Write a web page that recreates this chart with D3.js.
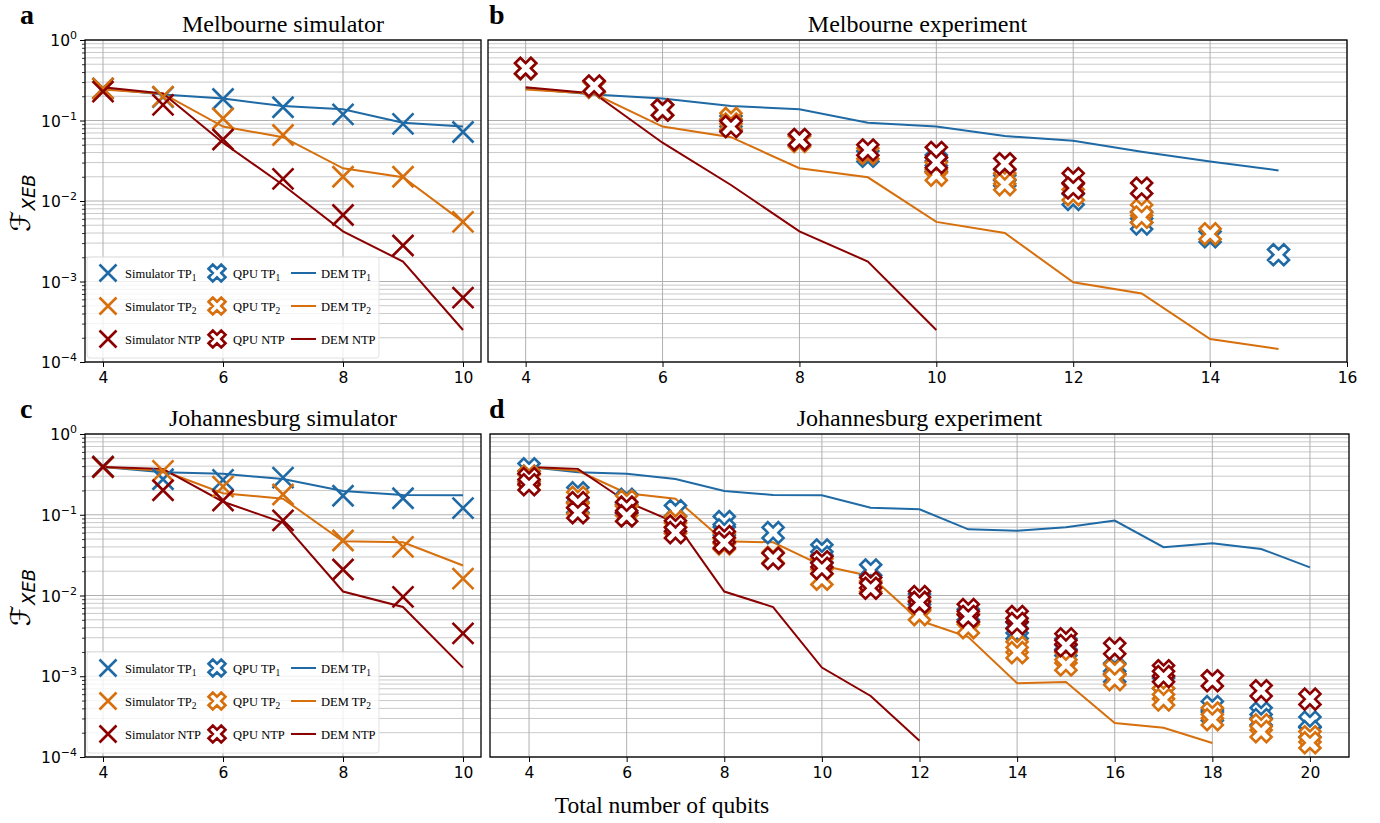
<!DOCTYPE html>
<html><head><meta charset="utf-8">
<script src="https://cdn.jsdelivr.net/npm/d3@7"></script>
<style>body{margin:0;background:#fff}</style>
</head><body>
<svg id="chart" width="1380" height="823"></svg>
<script>
// ---------------- DATA ----------------
const simQubits = [4,5,6,7,8,9,10];
const melSimTP1 = [0.25,0.195,0.185,0.146,0.119,0.091,0.072];
const melSimTP2 = [0.25,0.198,0.106,0.066,0.020,0.020,0.0055];
const melSimNTP = [0.228,0.156,0.058,0.0188,0.0067,0.0028,0.00063];

const melDemQubits = [4,5,6,7,8,9,10,11,12,13,14,15];
const melDemTP1 = [0.25,0.21,0.188,0.151,0.138,0.094,0.084,0.064,0.056,0.041,0.031,0.024];
const melDemTP2 = [0.243,0.215,0.084,0.062,0.0255,0.0197,0.0055,0.0040,0.00098,0.00071,0.000193,0.000145];
const melDemNTPQubits = [4,5,6,7,8,9,10];
const melDemNTP = [0.258,0.217,0.053,0.0158,0.0042,0.00177,0.00025];

const melQpuTP1x = [4,5,6,7,7,8,9,10,10,11,11,12,13,13,14,15];
const melQpuTP1 = [0.44,0.26,0.135,0.098,0.088,0.057,0.036,0.032,0.027,0.021,0.018,0.0105,0.0063,0.0052,0.0036,0.00215];
const melQpuTP2x = [4,5,6,7,7,8,9,10,10,11,11,12,13,13,14];
const melQpuTP2 = [0.44,0.26,0.135,0.106,0.09,0.055,0.039,0.026,0.021,0.019,0.016,0.012,0.0077,0.0063,0.0039];
const melQpuNTPx = [4,5,6,7,8,9,10,10,11,12,12,13];
const melQpuNTP = [0.445,0.268,0.135,0.084,0.058,0.043,0.040,0.030,0.029,0.019,0.0145,0.0144];

const jhbSimTP1 = [0.397,0.275,0.27,0.288,0.172,0.16,0.121];
const jhbSimTP2 = [0.39,0.35,0.223,0.178,0.048,0.040,0.0162];
const jhbSimNTP = [0.39,0.201,0.15,0.085,0.021,0.0096,0.0034];

const jhbDemTP1Qubits = [4,5,6,7,8,9,10,11,12,13,14,15,16,17,18,19,20];
const jhbDemTP1 = [0.39,0.335,0.322,0.277,0.197,0.176,0.174,0.122,0.117,0.066,0.0635,0.070,0.0846,0.0396,0.0444,0.0377,0.0223];
const jhbDemTP2Qubits = [4,5,6,7,8,9,10,11,12,13,14,15,16,17,18];
const jhbDemTP2 = [0.39,0.35,0.185,0.158,0.047,0.0455,0.0235,0.0173,0.0049,0.00305,0.00082,0.00085,0.000263,0.00023,0.000149];
const jhbDemNTPQubits = [4,5,6,7,8,9,10,11,12];
const jhbDemNTP = [0.39,0.37,0.145,0.08,0.0112,0.0072,0.00128,0.00057,0.000159];

const jhbQpuTP1x = [4,4,5,5,6,6,7,8,8,9,10,10,11,12,13,14,14,15,15,16,16,17,18,18,19,19,20,20];
const jhbQpuTP1 = [0.37,0.30,0.187,0.124,0.155,0.121,0.112,0.082,0.065,0.060,0.0366,0.030,0.0207,0.0090,0.0058,0.0040,0.0034,0.0025,0.0021,0.00125,0.00099,0.00082,0.00042,0.00033,0.00035,0.00029,0.00027,0.000206];
const jhbQpuTP2x = [4,4,5,5,6,6,7,7,8,8,9,10,10,11,12,12,13,13,14,14,15,15,16,16,17,17,18,18,19,19,20,20];
const jhbQpuTP2 = [0.30,0.27,0.164,0.119,0.148,0.114,0.082,0.068,0.051,0.0434,0.0296,0.0245,0.0159,0.013,0.0075,0.0058,0.0051,0.0040,0.0023,0.00196,0.0017,0.00138,0.0012,0.00091,0.00061,0.00051,0.00035,0.00029,0.00025,0.000206,0.000178,0.00015];
const jhbQpuNTPx = [4,4,5,5,6,6,7,7,8,8,9,10,10,11,11,12,12,13,13,14,14,15,15,16,17,17,18,19,20];
const jhbQpuNTP = [0.28,0.235,0.141,0.106,0.124,0.0966,0.0726,0.060,0.0535,0.045,0.0288,0.0262,0.0217,0.0144,0.0123,0.0097,0.0082,0.0067,0.0055,0.0055,0.0045,0.0029,0.0024,0.0022,0.00117,0.00099,0.00088,0.00066,0.00052];

const xTicksSim = [4,6,8,10];
const xTicksMel = [4,6,8,10,12,14,16];
const xTicksJhb = [4,6,8,10,12,14,16,18,20];
const yMajor = [1e-4,1e-3,1e-2,1e-1,1];
const yExponents = ["−4","−3","−2","−1","0"];

// ---------------- STYLE ----------------
const C = {tp1:"#1f6aa5", tp2:"#d66f0c", ntp:"#8b0000"};
const SERIF = "'Liberation Serif','Times New Roman',serif";
const SANS = "'DejaVu Sans',sans-serif";

const svg = d3.select("#chart");

const yMinor = [];
for (let k=-4;k<0;k++) for (let m=2;m<=9;m++) yMinor.push(m*Math.pow(10,k));

function simMarker(g, cx, cy, s, color){
  g.append("path").attr("d",`M${cx-s},${cy-s}L${cx+s},${cy+s}M${cx-s},${cy+s}L${cx+s},${cy-s}`)
   .attr("stroke",color).attr("stroke-width",2.6).attr("fill","none");
}
const xPts = [[-1,-2],[0,-1],[1,-2],[2,-1],[1,0],[2,1],[1,2],[0,1],[-1,2],[-2,1],[-1,0],[-2,-1]];
function qpuMarker(g, cx, cy, size, color){
  const k = size/4;
  const d = "M"+xPts.map(p=>`${cx+p[0]*k},${cy+p[1]*k}`).join("L")+"Z";
  g.append("path").attr("d",d).attr("fill","#fff").attr("stroke",color).attr("stroke-width",2.6).attr("stroke-linejoin","miter");
}

function panel(p){
  const g = svg.append("g");
  const x = d3.scaleLinear().domain(p.xdom).range([p.x0,p.x1]);
  const y = d3.scaleLog().domain([1e-4,1]).range([p.y1,p.y0]);
  // grid
  g.selectAll(null).data(yMinor).join("line")
    .attr("x1",p.x0).attr("x2",p.x1).attr("y1",d=>y(d)).attr("y2",d=>y(d))
    .attr("stroke","#c4c4c4").attr("stroke-width",0.9);
  g.selectAll(null).data(yMajor).join("line")
    .attr("x1",p.x0).attr("x2",p.x1).attr("y1",d=>y(d)).attr("y2",d=>y(d))
    .attr("stroke","#b0b0b0").attr("stroke-width",1);
  g.selectAll(null).data(p.xticks).join("line")
    .attr("x1",d=>x(d)).attr("x2",d=>x(d)).attr("y1",p.y0).attr("y2",p.y1)
    .attr("stroke","#b0b0b0").attr("stroke-width",1);

  // lines
  const line = d3.line().x(d=>x(d[0])).y(d=>y(d[1]));
  p.lines.forEach(L=>{
    g.append("path").datum(d3.zip(L.x,L.y)).attr("d",line)
      .attr("fill","none").attr("stroke",L.color).attr("stroke-width",2);
  });
  // markers
  p.marks.forEach(M=>{
    M.x.forEach((xv,i)=>{
      if (M.type==="sim") simMarker(g, x(xv), y(M.y[i]), 10.5, M.color);
      else qpuMarker(g, x(xv), y(M.y[i]), 21, M.color);
    });
  });

  // axes
  const xa = g.append("g").attr("transform",`translate(0,${p.y1})`)
    .call(d3.axisBottom(x).tickValues(p.xticks).tickSize(5).tickPadding(5).tickFormat(d3.format("d")));
  xa.select(".domain").remove();
  xa.selectAll("text").attr("font-family",SANS).attr("font-size",15.5).attr("fill","#000");
  xa.selectAll("line").attr("stroke","#000").attr("stroke-width",1);

  if (p.ylabels){
    const ya = g.append("g").attr("transform",`translate(${p.x0},0)`)
      .call(d3.axisLeft(y).tickValues(yMajor).tickSize(5).tickFormat(""));
    ya.select(".domain").remove();
    ya.selectAll("line").attr("stroke","#000").attr("stroke-width",1);
    const yam = g.append("g").attr("transform",`translate(${p.x0},0)`)
      .call(d3.axisLeft(y).tickValues(yMinor).tickSize(3).tickFormat(""));
    yam.select(".domain").remove();
    yam.selectAll("line").attr("stroke","#000").attr("stroke-width",0.8);

    yMajor.forEach((v,i)=>{
      const t = g.append("text").attr("x",p.x0-8).attr("y",y(v)+6)
        .attr("text-anchor","end").attr("font-family",SANS).attr("font-size",15.5).attr("fill","#000");
      t.append("tspan").text("10");
      t.append("tspan").attr("dy",-7).attr("font-size",11).text(yExponents[i]);
    });
    // y label
    const cy = (p.y0+p.y1)/2 + 2;
    const yl = g.append("text").attr("transform",`translate(30,${cy}) rotate(-90)`)
      .attr("text-anchor","middle").attr("font-family",SANS).attr("fill","#000");
    yl.append("tspan").attr("font-size",27).attr("font-style","italic").text("ℱ");
    yl.append("tspan").attr("font-size",18).attr("font-style","italic").attr("dy",5).text("XEB");
  }

  // frame
  g.append("rect").attr("x",p.x0).attr("y",p.y0).attr("width",p.x1-p.x0).attr("height",p.y1-p.y0)
    .attr("fill","none").attr("stroke","#000").attr("stroke-width",1.3);

  // title & letter
  g.append("text").attr("x",(p.x0+p.x1)/2).attr("y",p.y0-8).attr("text-anchor","middle")
    .attr("font-family",SERIF).attr("font-size",24).attr("fill","#000").text(p.title);
  g.append("text").attr("x",p.lx).attr("y",p.y0-16).attr("font-family",SERIF)
    .attr("font-weight","bold").attr("font-size",28).attr("fill","#000").text(p.letter);

  if (p.legend) legend(g, p);
}

function legend(g, p){
  const top = p.y1-105;
  g.append("rect").attr("x",p.x0+2).attr("y",top).attr("width",292).attr("height",101)
    .attr("rx",3).attr("fill","#fff").attr("fill-opacity",0.8).attr("stroke","#e2e2e2").attr("stroke-width",1);
  const rows = [
    {c:C.tp1, sub:"1", name:"TP"},
    {c:C.tp2, sub:"2", name:"TP"},
    {c:C.ntp, sub:"", name:"NTP"}
  ];
  rows.forEach((r,i)=>{
    const cy = p.y1-89+i*33;
    simMarker(g, p.x0+23, cy, 8.5, r.c);
    qpuMarker(g, p.x0+132, cy, 17, r.c);
    g.append("line").attr("x1",p.x0+206).attr("x2",p.x0+231).attr("y1",cy).attr("y2",cy)
      .attr("stroke",r.c).attr("stroke-width",2);
    const labels = [["Simulator ",p.x0+40],["QPU ",p.x0+148],["DEM ",p.x0+236]];
    labels.forEach(([pre,tx])=>{
      const t = g.append("text").attr("x",tx).attr("y",cy+4.5).attr("font-family",SERIF)
        .attr("font-size",12.5).attr("fill","#000");
      t.append("tspan").text(pre+r.name);
      if (r.sub) t.append("tspan").attr("font-size",9.5).attr("dy",3).text(r.sub);
    });
  });
}

panel({x0:85,x1:481,y0:40,y1:362,xdom:[3.7,10.3],xticks:xTicksSim,ylabels:true,legend:true,
  title:"Melbourne simulator",letter:"a",lx:20,
  lines:[{x:melDemNTPQubits,y:melDemTP1.slice(0,7),color:C.tp1},{x:melDemNTPQubits,y:melDemTP2.slice(0,7),color:C.tp2},{x:melDemNTPQubits,y:melDemNTP,color:C.ntp}],
  marks:[{type:"sim",x:simQubits,y:melSimTP1,color:C.tp1},{type:"sim",x:simQubits,y:melSimTP2,color:C.tp2},{type:"sim",x:simQubits,y:melSimNTP,color:C.ntp}]});

panel({x0:488,x1:1347,y0:40,y1:362,xdom:[3.45,16],xticks:xTicksMel,ylabels:false,legend:false,
  title:"Melbourne experiment",letter:"b",lx:489,
  lines:[{x:melDemQubits,y:melDemTP1,color:C.tp1},{x:melDemQubits,y:melDemTP2,color:C.tp2},{x:melDemNTPQubits,y:melDemNTP,color:C.ntp}],
  marks:[{type:"qpu",x:melQpuTP1x,y:melQpuTP1,color:C.tp1},{type:"qpu",x:melQpuTP2x,y:melQpuTP2,color:C.tp2},{type:"qpu",x:melQpuNTPx,y:melQpuNTP,color:C.ntp}]});

panel({x0:85,x1:481,y0:434,y1:757,xdom:[3.7,10.3],xticks:xTicksSim,ylabels:true,legend:true,
  title:"Johannesburg simulator",letter:"c",lx:20,
  lines:[{x:simQubits,y:jhbDemTP1.slice(0,7),color:C.tp1},{x:simQubits,y:jhbDemTP2.slice(0,7),color:C.tp2},{x:simQubits,y:jhbDemNTP.slice(0,7),color:C.ntp}],
  marks:[{type:"sim",x:simQubits,y:jhbSimTP1,color:C.tp1},{type:"sim",x:simQubits,y:jhbSimTP2,color:C.tp2},{type:"sim",x:simQubits,y:jhbSimNTP,color:C.ntp}]});

panel({x0:490,x1:1349,y0:434,y1:757,xdom:[3.2,20.8],xticks:xTicksJhb,ylabels:false,legend:false,
  title:"Johannesburg experiment",letter:"d",lx:489,
  lines:[{x:jhbDemTP1Qubits,y:jhbDemTP1,color:C.tp1},{x:jhbDemTP2Qubits,y:jhbDemTP2,color:C.tp2},{x:jhbDemNTPQubits,y:jhbDemNTP,color:C.ntp}],
  marks:[{type:"qpu",x:jhbQpuTP1x,y:jhbQpuTP1,color:C.tp1},{type:"qpu",x:jhbQpuTP2x,y:jhbQpuTP2,color:C.tp2},{type:"qpu",x:jhbQpuNTPx,y:jhbQpuNTP,color:C.ntp}]});

svg.append("text").attr("x",662).attr("y",813).attr("text-anchor","middle")
  .attr("font-family",SERIF).attr("font-size",23.5).attr("fill","#000").text("Total number of qubits");
</script>
</body></html>
